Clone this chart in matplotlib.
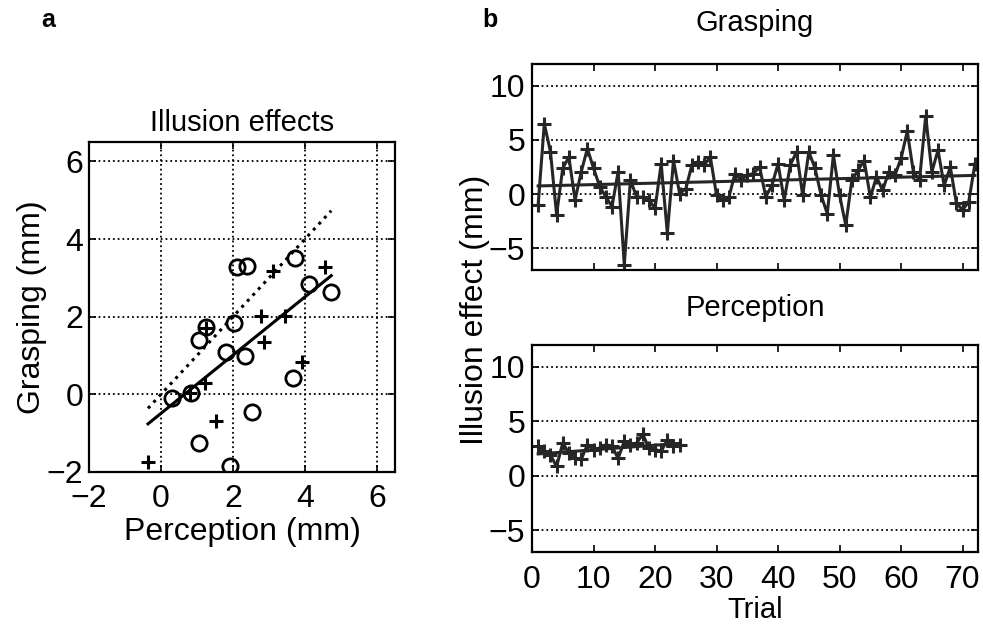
import numpy as np
import matplotlib
matplotlib.use('Agg')
import matplotlib.pyplot as plt

plt.rcParams['font.family'] = ['Liberation Sans', 'DejaVu Sans']
plt.rcParams['font.size'] = 23
plt.rcParams['xtick.direction'] = 'in'
plt.rcParams['ytick.direction'] = 'in'
plt.rcParams['xtick.top'] = True
plt.rcParams['ytick.right'] = True
plt.rcParams['axes.linewidth'] = 1.6

# panel a: illusion effects per subject (mm)
circ_perc = [2.12, 2.40, 3.72, 4.10, 4.73, 2.03, 1.24, 1.07, 1.80, 2.33, 0.31, 0.84, 3.66, 2.54, 1.05, 1.93]
circ_grasp = [3.28, 3.30, 3.50, 2.84, 2.63, 1.84, 1.73, 1.41, 1.10, 1.00, -0.10, 0.03, 0.43, -0.46, -1.26, -1.85]
plus_perc = [3.12, 4.57, 2.77, 3.44, 2.87, 3.93, 1.24, 1.22, 1.53, -0.36, 0.82]
plus_grasp = [3.19, 3.28, 2.02, 2.03, 1.35, 0.84, 1.71, 0.28, -0.68, -1.75, 0.04]
fit_a = (0.75, -0.49)   # slope, intercept of solid line

# panel b: illusion effect per trial (mm)
grasp_trial = [-1.0, 6.5, 3.9, -1.9, 2.4, 3.4, -0.55, 2.05, 4.2, 2.4,
               0.7, -0.25, -1.15, 2.05, -6.5, 1.3, -0.25, -0.3, -0.55, -1.3,
               2.8, -3.6, 3.1, 0.05, 0.5, 2.7, 3.0, 2.7, 3.4, -0.1,
               -0.55, -0.3, 1.9, 1.3, 1.75, 1.9, 2.5, -0.25, 0.8, 2.8,
               -0.55, 2.7, 3.9, -0.1, 3.9, 2.4, -0.1, -1.8, 3.6, -0.1,
               -2.85, 1.3, 2.2, 3.1, -0.3, 1.6, 0.35, 2.05, 1.75, 3.3,
               5.8, 2.05, 1.3, 7.2, 2.05, 4.05, 0.8, 2.5, -0.85, -1.45,
               -0.7, 2.8]
fit_grasp = (0.0137, 0.74)
perc_trial = [2.7, 2.25, 1.9, 0.85, 3.0, 2.1, 1.6, 1.5, 2.85, 2.4,
              2.55, 2.85, 2.7, 1.6, 3.15, 2.85, 3.0, 3.8, 2.55, 2.4,
              2.25, 3.3, 2.7, 2.8]

fig = plt.figure(figsize=(9.83, 6.3), dpi=100)

grid_kw = dict(color='k', linestyle=':', linewidth=1.3)

# ---- a ----
ax = fig.add_axes([0.0905, 0.2508, 0.3113, 0.5238])
xs = np.array(circ_perc + plus_perc)
xr = np.array([xs.min(), xs.max()])
ax.plot(xr, xr, color='k', linestyle=':', linewidth=2.2)
ax.plot(xr, fit_a[0] * xr + fit_a[1], color='k', linewidth=2.2)
ax.plot(circ_perc, circ_grasp, 'o', mfc='none', mec='k', ms=11, mew=2)
ax.plot(plus_perc, plus_grasp, '+', color='k', ms=10, mew=2.2)
ax.set_xlim(-2, 6.5)
ax.set_ylim(-2, 6.5)
ax.set_xticks([-2, 0, 2, 4, 6])
ax.set_yticks([-2, 0, 2, 4, 6])
ax.set_xticklabels(['\u22122', '0', '2', '4', '6'])
ax.set_yticklabels(['\u22122', '0', '2', '4', '6'])
ax.grid(True, **grid_kw)
ax.tick_params(length=5, width=1.2)
ax.tick_params(axis='x', pad=9)
ax.tick_params(axis='y', pad=4)
ax.set_title('Illusion effects', pad=8, fontsize=21)
ax.set_xlabel('Perception (mm)', labelpad=2)
ax.set_ylabel('Grasping (mm)', labelpad=0)

# ---- b ----
trials_g = np.arange(1, len(grasp_trial) + 1)
trials_p = np.arange(1, len(perc_trial) + 1)
line_c = '0.15'

axg = fig.add_axes([0.5412, 0.5714, 0.4537, 0.327])
axg.plot(trials_g, fit_grasp[0] * trials_g + fit_grasp[1], color=line_c, linewidth=2.2)
axg.plot(trials_g, grasp_trial, '-+', color=line_c, linewidth=2.2, ms=10, mew=2.2)

axp = fig.add_axes([0.5412, 0.1238, 0.4537, 0.3286])
pc = np.polyfit(trials_p, perc_trial, 1)
axp.plot(trials_p, np.polyval(pc, trials_p), color=line_c, linewidth=2.2)
axp.plot(trials_p, perc_trial, '-+', color=line_c, linewidth=2.2, ms=10, mew=2.2)

for a in (axg, axp):
    a.set_xlim(0, 72.5)
    a.set_ylim(-7, 12)
    a.set_xticks(np.arange(0, 71, 10))
    a.set_yticks([-5, 0, 5, 10])
    a.set_yticklabels(['\u22125', '0', '5', '10'])
    a.grid(True, axis='y', **grid_kw)
    a.tick_params(length=5, width=1.2)
    a.tick_params(axis='x', pad=9)
    a.tick_params(axis='y', pad=5)
axg.set_xticklabels([])
axg.set_title('Grasping', pad=24, fontsize=21)
axp.set_title('Perception', pad=21, fontsize=21)
axp.set_xlabel('Trial', labelpad=1, fontsize=21)
fig.text(0.483, 0.508, 'Illusion effect (mm)', rotation=90, ha='center', va='center')

fig.text(0.049, 0.968, 'a', fontsize=18, fontweight='bold', ha='center', va='center')
fig.text(0.498, 0.968, 'b', fontsize=18, fontweight='bold', ha='center', va='center')

fig.savefig('out.png', dpi=100)
